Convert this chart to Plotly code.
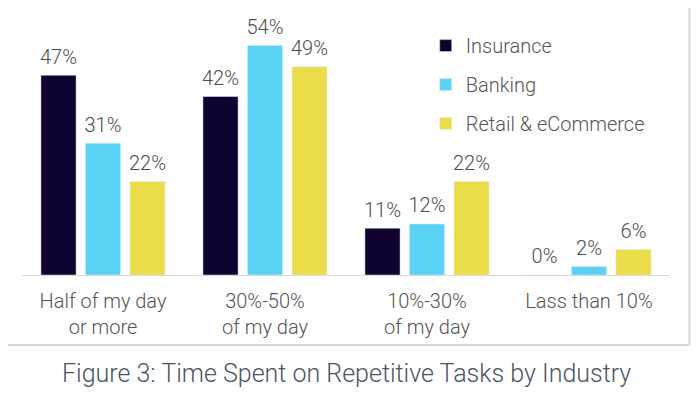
import plotly.graph_objects as go

categories = ["Half of my day<br>or more", "30%-50%<br>of my day", "10%-30%<br>of my day", "Lass than 10%"]
insurance = [47, 42, 11, 0]
banking = [31, 54, 12, 2]
retail = [22, 49, 22, 6]
series_names = ["Insurance", "Banking", "Retail & eCommerce"]
caption = "Figure 3: Time Spent on Repetitive Tasks by Industry"

colors = ["#10022f", "#5ad2f4", "#ebdc49"]
font_family = "Roboto"
text_color = "#555555"

fig = go.Figure()
for name, vals, col in zip(series_names, [insurance, banking, retail], colors):
    fig.add_trace(go.Bar(
        x=categories, y=vals, name=name, marker_color=col,
        legendgroup=name, hoverinfo="x+y+name",
    ))
for name, vals in zip(series_names, [insurance, banking, retail]):
    fig.add_trace(go.Scatter(
        x=categories, y=vals, mode="markers+text", showlegend=False,
        legendgroup=name, text=[f"{v}%" for v in vals], textposition="top center",
        marker=dict(size=9, color="rgba(0,0,0,0)"),
        textfont=dict(size=20, color="#4d4d4d", family=font_family, weight=300),
        cliponaxis=False, hoverinfo="skip",
    ))

fig.update_layout(
    width=692, height=386,
    margin=dict(l=14, r=30, t=12, b=119, autoexpand=False),
    paper_bgcolor="white", plot_bgcolor="white",
    barmode="group", bargap=0.176, bargroupgap=0.21,
    scattermode="group", scattergap=0.176,
    font=dict(family=font_family, color=text_color, weight=300),
    showlegend=True,
    legend=dict(x=0.623, y=0.976, xanchor="left", yanchor="top",
                font=dict(size=20, color=text_color, weight=300),
                tracegroupgap=10, bgcolor="rgba(0,0,0,0)",
                itemwidth=30),
    xaxis=dict(showline=True, linecolor="#d9d9d9", linewidth=1,
               tickfont=dict(size=20, color=text_color, weight=300),
               ticks="", showgrid=False, range=[-0.5, 3.5], automargin=False,
               ticklabelstandoff=8),
    yaxis=dict(visible=False, range=[0, 60], showgrid=False, zeroline=False),
)

fig.add_annotation(text=caption, xref="paper", yref="paper", x=0.5, y=-0.388,
                   xanchor="center", yanchor="middle", showarrow=False,
                   font=dict(size=25, color="#4a5562", family=font_family, weight=300))

# frame lines (right and bottom edges of the chart box)
fig.add_shape(type="line", xref="paper", yref="paper", x0=1.03, x1=1.03, y0=1.1, y1=-0.2745,
              line=dict(color="#d6d6d6", width=2))
fig.add_shape(type="line", xref="paper", yref="paper", x0=-0.03, x1=1.03, y0=-0.2745, y1=-0.2745,
              line=dict(color="#d6d6d6", width=2))

fig.write_html("out.html", post_script="document.documentElement.style.overflow='hidden';document.body.style.overflow='hidden';")
